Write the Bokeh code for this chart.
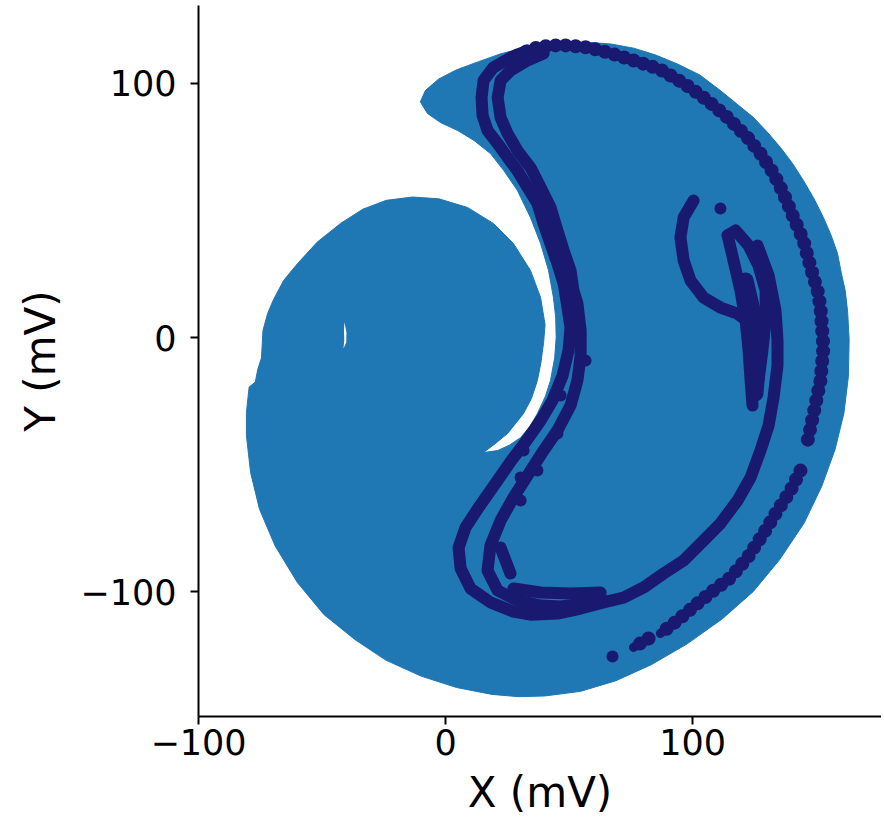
import numpy as np
from bokeh.plotting import figure
from bokeh.models import Range1d, FixedTicker
from bokeh.embed import file_html
from bokeh.resources import INLINE

nan = np.nan

# Axis ticks
tick_values = [-100, 0, 100]
tick_labels = {-100: "\u2212100", 0: "0", 100: "100"}

# Blue region boundary (mV)
region_x = [-10.2, -8.1, -2.7, 4.5, 13.4, 22.4, 31.4, 40.3, 49.3, 58.2, 67.2, 76.2, 85.1, 94.1, 103.0,
            111.3, 118.5, 124.7, 130.5, 135.6, 140.5, 144.9, 149.2, 153.0, 156.2, 158.7, 160.2, 161.8,
            162.8, 163.4, 163.1, 161.3, 157.7, 152.3, 145.2, 135.3, 124.6, 112.0, 97.7, 83.3, 69.0,
            54.7, 40.3, 29.6, 18.8, 4.5, -9.9, -24.2, -36.7, -49.3, -60.0, -69.0, -75.3, -78.9, -80.6,
            -80.6, -79.5, -77.0, -76.0, -74.5, -73.9, -72.0, -69.6, -65.5, -59.9, -52.0, -42.5, -33.5,
            -24.0, -13.4, -2.7, 8.9, 19.4, 27.5, 34.4, 38.5, 40.3, 39.7, 38.6, 37.2, 34.8, 31.6, 25.1,
            20.5, 15.4, 21.1, 26.0, 30.4, 34.2, 37.2, 40.5, 42.5, 44.2, 44.8, 44.6, 43.7, 41.7, 38.5,
            34.4, 29.1, 23.6, 18.2, 11.5, 4.9, -2.0, -7.3]
region_y = [92.8, 97.3, 101.8, 105.4, 108.6, 111.7, 113.9, 115.3, 116.2, 116.2, 115.5, 113.9, 111.2,
            107.6, 103.3, 97.2, 91.5, 86.6, 80.6, 74.8, 68.5, 61.8, 54.6, 47.2, 40.0, 33.1, 25.5, 18.5,
            10.0, -0.9, -15.3, -29.7, -44.1, -58.6, -73.0, -87.4, -100.0, -110.8, -120.7, -128.8,
            -135.1, -139.3, -141.1, -141.4, -140.5, -137.8, -133.3, -127.0, -118.9, -109.0, -96.4,
            -82.0, -67.6, -53.2, -38.7, -29.5, -19.5, -17.5, -12.5, -8.0, 2.8, 9.5, 15.0, 22.5, 29.1,
            37.5, 44.9, 50.5, 54.0, 55.3, 54.6, 51.2, 44.9, 37.0, 26.4, 15.7, 5.0, -2.0, -10.0, -16.9,
            -24.0, -29.9, -37.8, -41.5, -45.3, -44.5, -42.3, -39.4, -35.0, -29.9, -23.0, -16.9, -8.0,
            0.0, 8.0, 15.7, 26.4, 37.0, 47.2, 57.9, 65.7, 72.4, 77.6, 81.5, 84.6, 88.2]

# Small gap inside left lobe
gap_x = [-40.9, -40.1, -40.2, -41.3, -41.0, -41.1]
gap_y = [6.0, 2.0, -2.0, -4.3, -1.0, 3.0]

# Trajectory strands (mV)
strand_a_x = [29.1, 35.6, 42.5, 49.4, 57.5, 65.6, 76.1, 87.0, 97.2, 106.1, 114.2, 122.3, 127.5, 132.8,
              136.8, 140.9, 144.9, 147.8, 150.6, 151.8, 153.0, 151.8, 149.0, 146.6, nan,
              143.7, 139.7, 134.4, 128.7, 122.3, 115.4, 108.5, 102.0, 93.9, 87.0, nan, 82.2, 76.1]
strand_a_y = [111.0, 113.8, 115.0, 115.0, 114.2, 112.2, 109.1, 105.5, 99.6, 93.3, 86.6, 78.7, 72.4,
              64.6, 56.7, 47.2, 38.2, 27.6, 18.5, 11.8, -3.9, -16.9, -29.9, -40.6, nan,
              -52.4, -60.2, -68.1, -77.2, -86.6, -94.5, -99.6, -104.7, -111.4, -116.5, nan, -118.5, -122.0]

strand_b_x = [126.3, 130.8, 133.6, 134.4, 134.4, 132.8, 130.8, 127.5, 123.5, 118.2, 111.3, 104.5, 96.4,
              88.3, 80.2, 72.1, 64.0, 54.7, 45.3, 34.4, 27.5, 18.2, 10.1, 6.1, 5.3, 8.1, 13.4, 20.2,
              26.7, 32.8, 38.5, 43.3, 47.4, 49.8, 50.6, 49.4, 47.8, 45.3, 42.5, 39.7, 37.2, 33.2, 29.1,
              25.1, 21.1, 17.0, 15.0, 14.6, 15.4, 19.4, 26.3, 33.2]
strand_b_y = [36.2, 24.4, 10.6, -1.2, -11.0, -23.6, -34.6, -44.5, -55.1, -64.2, -73.2, -79.9, -87.8,
              -92.9, -98.4, -102.4, -104.3, -106.7, -108.7, -109.1, -107.9, -104.3, -98.8, -90.9, -82.7,
              -74.8, -66.9, -57.5, -48.4, -40.6, -32.7, -24.8, -15.0, -5.1, 3.9, 11.8, 21.3, 29.1, 37.0,
              44.9, 52.8, 59.1, 65.7, 70.9, 76.4, 81.5, 87.4, 94.5, 101.2, 106.3, 110.2, 113.0]

strand_c_x = [39.7, 33.2, 26.3, 22.3, 21.1, 22.3, 25.1, 29.1, 34.4, 38.5, 42.5, 45.3, 47.8, 50.6, 51.8,
              53.4, 54.7, 54.7, 53.4, 50.6, 45.3, 39.7, 33.2, 27.5, 22.3, 18.2, 17.0, 21.1, 29.1, 38.5,
              46.6, 56.7, 64.0]
strand_c_y = [111.8, 109.1, 105.1, 101.2, 94.5, 86.6, 80.3, 73.6, 66.9, 59.1, 51.2, 42.1, 34.3, 26.4,
              18.5, 13.4, 2.8, -7.1, -16.9, -26.8, -36.6, -44.5, -54.3, -63.0, -72.0, -81.9, -91.7,
              -99.6, -103.5, -105.5, -105.9, -104.7, -103.5]

strand_d_x = [22.3, 24.3, 26.3, nan, 27.5, 38.5, 50.6, 62.8]
strand_d_y = [-82.7, -87.8, -92.9, nan, -98.8, -100.4, -100.8, -100.4]

hook_loop_x = [100.4, 96.4, 95.1, 96.4, 99.2, 104.5, 111.3, 118.2, 123.5]
hook_loop_y = [53.9, 47.2, 39.4, 30.3, 22.4, 15.7, 11.8, 9.4, 5.5]

hook_left_x = [114.2, 116.6, 119.4, 121.5, 122.7, 123.5, 124.3]
hook_left_y = [40.2, 30.3, 18.5, 6.7, -5.1, -16.9, -26.8]
hook_right_x = [114.2, 117.4, 122.7, 126.7, 129.6, 129.6, 128.3, 126.7]
hook_right_y = [40.2, 42.1, 36.2, 28.3, 18.5, 6.7, -5.1, -16.9]
hook_core_x = [121.5, 124.3, 125.9, 126.3, 125.5]
hook_core_y = [22.4, 10.6, -1.2, -12.0, -22.0]

dots_x = [67.6, 111.3, 31.6, 37.2, 30.4, 30.4, 45.3, 56.7, 46.6]
dots_y = [-125.6, 50.8, -44.5, -52.4, -55.1, -64.2, -37.8, -9.1, -22.8]

BLUE = "#1f77b4"
DARK = "#191970"

p = figure(width=881, height=825, x_range=Range1d(-100, 176.5), y_range=Range1d(-149.2, 130.7),
           output_backend="svg", toolbar_location=None,
           min_border_left=198, min_border_right=0, min_border_top=5, min_border_bottom=109)
p.grid.visible = False
p.outline_line_color = None
p.background_fill_color = "white"

p.patch(region_x, region_y, fill_color=BLUE, line_color=BLUE, line_width=1)
p.patch(gap_x, gap_y, fill_color="white", line_color=None)

a_x = np.array(strand_a_x, dtype=float)
a_y = np.array(strand_a_y, dtype=float)
p.line(a_x, a_y, line_color=DARK, line_width=9, line_cap="round", line_join="round")
p.line(a_x, a_y, line_color=DARK, line_width=14, line_cap="round", line_join="round", line_dash="0 10")
for xs, ys in [(strand_b_x, strand_b_y), (strand_c_x, strand_c_y), (strand_d_x, strand_d_y),
               (hook_loop_x, hook_loop_y), (hook_left_x, hook_left_y), (hook_right_x, hook_right_y)]:
    p.line(np.array(xs, dtype=float), np.array(ys, dtype=float), line_color=DARK, line_width=12,
           line_cap="round", line_join="round")
p.line(hook_core_x, hook_core_y, line_color=DARK, line_width=16, line_cap="round", line_join="round")
p.scatter(dots_x, dots_y, size=12, fill_color=DARK, line_color=None)

p.xaxis.axis_label = "X (mV)"
p.yaxis.axis_label = "Y (mV)"
for ax in (p.xaxis[0], p.yaxis[0]):
    ax.ticker = FixedTicker(ticks=tick_values)
    ax.major_label_overrides = tick_labels
    ax.axis_line_width = 2
    ax.axis_line_color = "black"
    ax.major_tick_line_width = 2
    ax.major_tick_line_color = "black"
    ax.major_tick_out = 8
    ax.major_tick_in = 0
    ax.minor_tick_line_color = None
    ax.major_label_text_font = "DejaVu Sans"
    ax.major_label_text_font_size = "35px"
    ax.major_label_text_color = "black"
    ax.axis_label_text_font = "DejaVu Sans"
    ax.axis_label_text_font_size = "42px"
    ax.axis_label_text_font_style = "normal"
    ax.axis_label_text_color = "black"
p.xaxis.major_label_standoff = 4
p.yaxis.major_label_standoff = 14
p.xaxis.axis_label_standoff = 10
p.yaxis.axis_label_standoff = 12

open("out.html", "w").write(file_html(p, INLINE))
